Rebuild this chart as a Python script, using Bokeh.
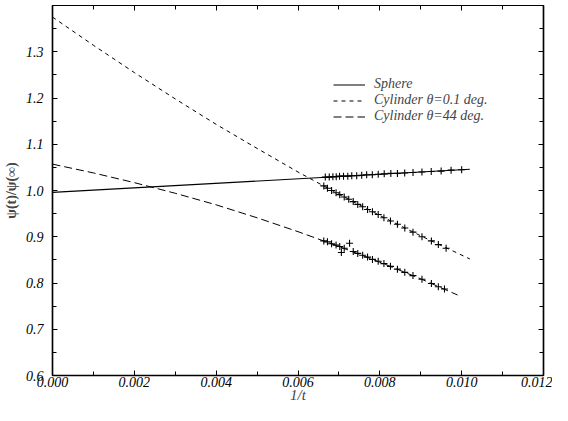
from bokeh.plotting import figure
from bokeh.models import (Legend, LegendItem, LinearAxis, Range1d, FixedTicker)
from bokeh.embed import file_html
from bokeh.resources import INLINE

# ---- data (1/t in units of 1, psi(t)/psi(inf)) ----
# fitted curves
sphere_line_x = [0.0, 0.0102]
sphere_line_y = [0.996, 1.046]

cyl01_line_x = [0.0, 0.001, 0.002, 0.003, 0.004, 0.005, 0.006, 0.007, 0.008, 0.009, 0.0102]
cyl01_line_y = [1.375, 1.314, 1.255, 1.198, 1.143, 1.091, 1.040, 0.992, 0.946, 0.902, 0.852]

cyl44_line_x = [0.0, 0.001, 0.002, 0.003, 0.004, 0.005, 0.006, 0.007, 0.008, 0.009, 0.0099]
cyl44_line_y = [1.057, 1.038, 1.017, 0.994, 0.969, 0.941, 0.911, 0.879, 0.845, 0.809, 0.774]

# simulation points
sphere_pts_x = [0.006667, 0.006764, 0.006853, 0.006934, 0.007015, 0.007112, 0.007217, 0.007314,
                0.007435, 0.007557, 0.007678, 0.007816, 0.007961, 0.008107, 0.008269, 0.008430,
                0.008608, 0.008811, 0.009029, 0.009256, 0.009498, 0.009741, 0.010000]
sphere_pts_y = [1.029, 1.029, 1.030, 1.030, 1.031, 1.031, 1.031, 1.032,
                1.032, 1.033, 1.034, 1.034, 1.035, 1.036, 1.037, 1.037,
                1.038, 1.039, 1.040, 1.041, 1.042, 1.044, 1.045]

cyl01_pts_x = [0.00663, 0.00672, 0.00682, 0.00693, 0.00702, 0.00713, 0.00724, 0.00735,
               0.00746, 0.00758, 0.00770, 0.00782, 0.00796, 0.00810, 0.00826, 0.00843,
               0.00861, 0.00881, 0.00903, 0.00926, 0.00943, 0.00962]
cyl01_pts_y = [1.010, 1.005, 1.000, 0.995, 0.991, 0.986, 0.981, 0.976,
               0.970, 0.965, 0.959, 0.954, 0.948, 0.941, 0.934, 0.927,
               0.919, 0.910, 0.900, 0.891, 0.883, 0.875]

cyl44_pts_x = [0.00663, 0.00672, 0.00682, 0.00693, 0.00702, 0.00706, 0.00713, 0.00726, 0.00735,
               0.00746, 0.00758, 0.00770, 0.00782, 0.00796, 0.00810, 0.00826, 0.00843,
               0.00861, 0.00881, 0.00903, 0.00926, 0.00943, 0.00958]
cyl44_pts_y = [0.891, 0.889, 0.885, 0.882, 0.879, 0.866, 0.875, 0.886, 0.868,
               0.864, 0.860, 0.856, 0.851, 0.847, 0.842, 0.836, 0.830,
               0.823, 0.816, 0.808, 0.799, 0.792, 0.787]

x_ticks = [0.000, 0.002, 0.004, 0.006, 0.008, 0.010, 0.012]
x_minor = [0.001, 0.003, 0.005, 0.007, 0.009, 0.011]
y_ticks = [0.6, 0.7, 0.8, 0.9, 1.0, 1.1, 1.2, 1.3]
y_minor = [0.65, 0.75, 0.85, 0.95, 1.05, 1.15, 1.25, 1.35]
labels = ["Sphere", "Cylinder \u03b8=0.1 deg.", "Cylinder \u03b8=44 deg."]

SERIF = "'Liberation Serif', 'Times New Roman', serif"

p = figure(width=552, height=405, output_backend="svg", toolbar_location=None,
           x_range=Range1d(0.0, 0.012), y_range=Range1d(0.6, 1.4),
           min_border_left=49, min_border_right=9, min_border_top=5, min_border_bottom=29)
p.xgrid.visible = False
p.ygrid.visible = False
p.outline_line_color = "black"
p.outline_line_width = 1.2
p.background_fill_color = "white"
p.border_fill_color = "white"

r1 = p.line(sphere_line_x, sphere_line_y, line_color="black", line_width=1.1)
r2 = p.line(cyl01_line_x, cyl01_line_y, line_color="black", line_width=1.0, line_dash="4 4")
r3 = p.line(cyl44_line_x, cyl44_line_y, line_color="black", line_width=1.0, line_dash="8 4")

for xs, ys in [(sphere_pts_x, sphere_pts_y), (cyl01_pts_x, cyl01_pts_y), (cyl44_pts_x, cyl44_pts_y)]:
    p.scatter(xs, ys, marker="cross", size=7, line_color="black", line_width=1.1)

def style_axis(ax):
    ax.major_tick_in = 5
    ax.major_tick_out = 0
    ax.minor_tick_in = 4
    ax.minor_tick_out = 0
    ax.axis_line_color = "black"
    ax.axis_line_width = 1.5
    ax.major_tick_line_color = "black"
    ax.minor_tick_line_color = "black"
    ax.major_label_text_font = SERIF
    ax.major_label_text_font_style = "italic"
    ax.major_label_text_font_size = "14px"
    ax.major_label_text_color = "black"

xa = p.xaxis[0]
xa.ticker = FixedTicker(ticks=x_ticks, minor_ticks=x_minor)
xa.major_label_overrides = {t: "%.3f" % t for t in x_ticks}
style_axis(xa)
xa.major_label_standoff = 1
xa.axis_label = "1/t"
xa.axis_label_text_font = SERIF
xa.axis_label_text_font_style = "italic"
xa.axis_label_text_font_size = "15px"
xa.axis_label_standoff = -3

ya = p.yaxis[0]
ya.ticker = FixedTicker(ticks=y_ticks, minor_ticks=y_minor)
ya.major_label_overrides = {t: "%.1f" % t for t in y_ticks}
style_axis(ya)
ya.major_label_standoff = 9
ya.axis_label = "\u03c8(t)/\u03c8(\u221e)"
ya.axis_label_text_font = SERIF
ya.axis_label_text_font_style = "bold"
ya.axis_label_text_font_size = "14px"
ya.axis_label_standoff = 4

top = LinearAxis(ticker=FixedTicker(ticks=x_ticks, minor_ticks=x_minor))
style_axis(top)
top.axis_line_width = 1.0
top.major_label_overrides = {t: "" for t in x_ticks}
top.major_label_text_font_size = "1px"
top.major_label_standoff = 0
p.add_layout(top, "above")

right = LinearAxis(ticker=FixedTicker(ticks=y_ticks, minor_ticks=y_minor))
style_axis(right)
right.major_label_overrides = {t: "" for t in y_ticks}
right.major_label_text_font_size = "1px"
right.major_label_standoff = 0
p.add_layout(right, "right")

legend = Legend(items=[LegendItem(label=labels[0], renderers=[r1]),
                       LegendItem(label=labels[1], renderers=[r2]),
                       LegendItem(label=labels[2], renderers=[r3])],
                location=(281, 251))
legend.label_text_font = SERIF
legend.label_text_font_style = "italic"
legend.label_text_font_size = "14px"
legend.label_height = 15
legend.glyph_height = 15
legend.glyph_width = 32
legend.label_standoff = 9
legend.spacing = 0
legend.padding = 0
legend.margin = 0
legend.border_line_alpha = 0
legend.background_fill_alpha = 0
p.add_layout(legend)

open("out.html", "w").write(file_html(p, INLINE))
